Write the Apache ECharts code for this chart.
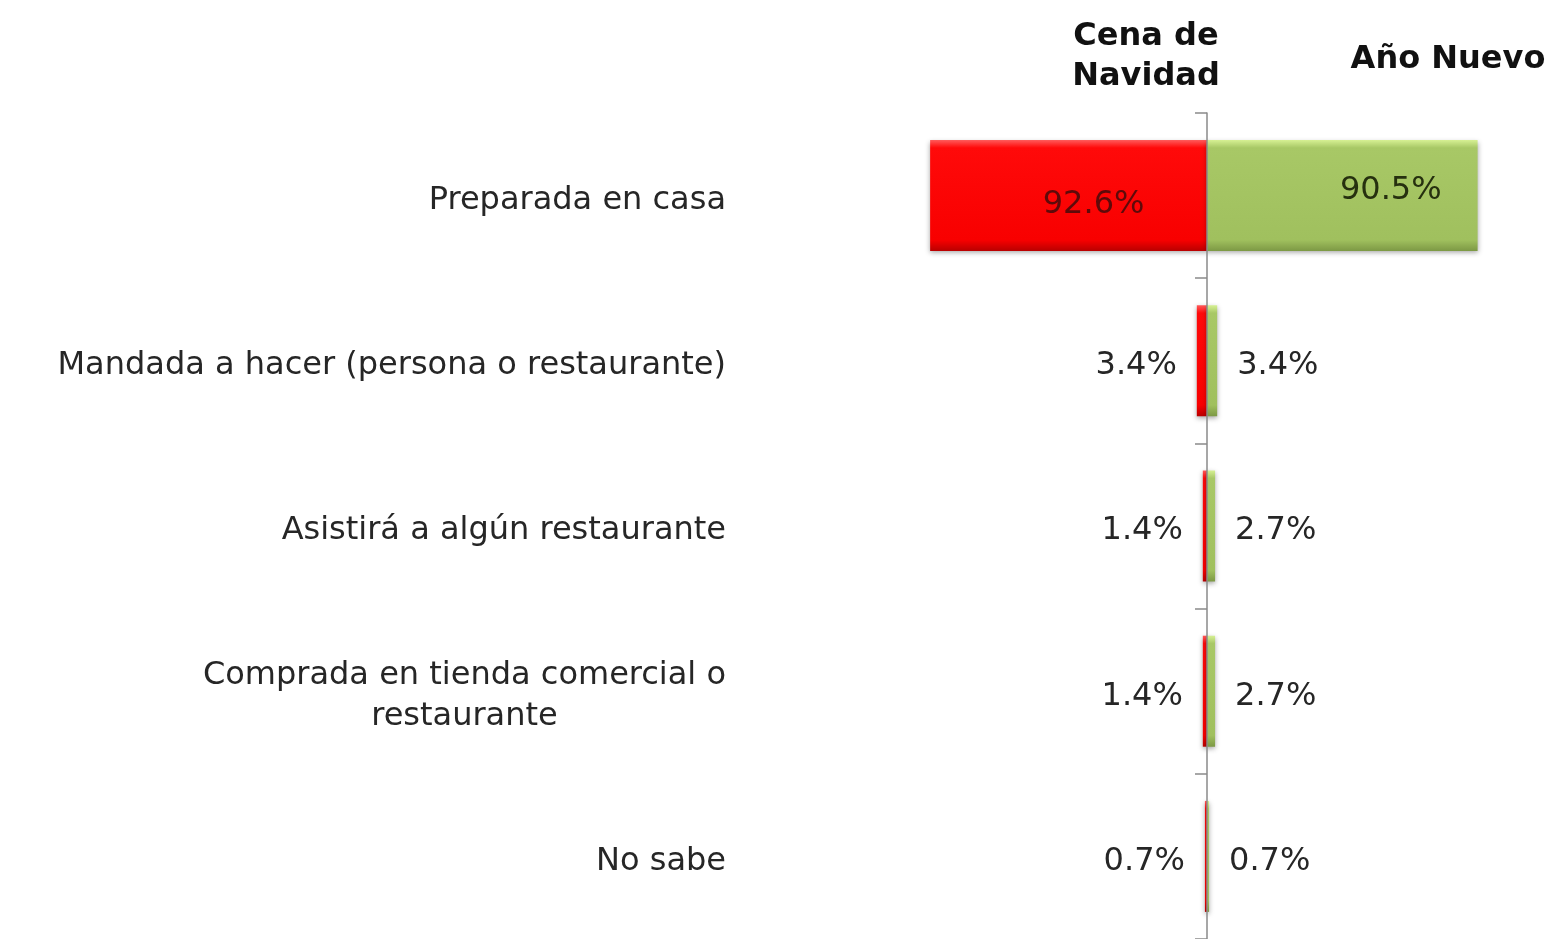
<!DOCTYPE html>
<html>
<head>
<meta charset="utf-8">
<script src="https://cdn.jsdelivr.net/npm/echarts@6/dist/echarts.min.js"></script>
<style>
  html, body { margin: 0; padding: 0; background: #fff; }
  #chart { width: 1551px; height: 939px; }
</style>
</head>
<body>
<div id="chart"></div>
<script>
// categories (top to bottom)
var categories = [
  'Preparada en casa',
  'Mandada a hacer (persona o restaurante)',
  'Asistirá a algún restaurante',
  'Comprada en tienda comercial o\nrestaurante',
  'No sabe'
];
var seriesNames = ['Cena de\nNavidad', 'Año Nuevo'];
var navidad = [92.6, 3.4, 1.4, 1.4, 0.7];
var anoNuevo = [90.5, 3.4, 2.7, 2.7, 0.7];

var FONT = '"DejaVu Sans", Verdana, sans-serif';

function pct(p) { return p.value.toFixed(1) + '%'; }

// left (red) bars: big one gets label inside
var leftData = navidad.map(function (v) {
  if (v > 50) {
    return { value: v, label: { position: 'inside', offset: [25, 9], color: '#5e0a0a' } };
  }
  return { value: v };
});
var rightData = anoNuevo.map(function (v) {
  if (v > 50) {
    return { value: v, label: { position: 'insideRight', distance: 36, offset: [0, -5], color: '#26300f' } };
  }
  return { value: v };
});

var redFill = new echarts.graphic.LinearGradient(0, 0, 0, 1, [
  { offset: 0, color: '#ff5a5a' },
  { offset: 0.07, color: '#ff0a0a' },
  { offset: 0.9, color: '#f80000' },
  { offset: 1, color: '#b80000' }
]);
var greenFill = new echarts.graphic.LinearGradient(0, 0, 0, 1, [
  { offset: 0, color: '#d6f093' },
  { offset: 0.07, color: '#a8c866' },
  { offset: 0.9, color: '#a0c05e' },
  { offset: 1, color: '#7c9844' }
]);

var option = {
  backgroundColor: '#ffffff',
  animation: false,
  title: [
    {
      text: seriesNames[0],
      left: 1141, top: 12, textAlign: 'center',
      textStyle: { fontFamily: FONT, fontSize: 32, fontWeight: 'bold', color: '#111', lineHeight: 40, align: 'center' }
    },
    {
      text: seriesNames[1],
      left: 1443, top: 39, textAlign: 'center',
      textStyle: { fontFamily: FONT, fontSize: 32, fontWeight: 'bold', color: '#111' }
    }
  ],
  grid: [
    { left: 908, right: 344, top: 113, bottom: -1 },
    { left: 1207, right: 45, top: 113, bottom: -1 }
  ],
  xAxis: [
    { gridIndex: 0, type: 'value', min: 0, max: 100, inverse: true, show: false },
    { gridIndex: 1, type: 'value', min: 0, max: 100, show: false }
  ],
  yAxis: [
    {
      gridIndex: 0, type: 'category', data: categories, inverse: true, show: false
    },
    {
      gridIndex: 1, type: 'category', data: categories, inverse: true, position: 'left',
      z: 5,
      axisLine: { show: true, lineStyle: { color: '#8a8a8a', width: 1.5 } },
      axisTick: { show: true, length: 12, lineStyle: { color: '#8a8a8a', width: 1.5 } },
      axisLabel: {
        margin: 481,
        align: 'right',
        padding: [10, 0, 0, 0],
        formatter: function (v) {
          return v.split('\n').map(function (l) { return '{c|' + l + '}'; }).join('\n');
        },
        rich: {
          c: { align: 'center', fontFamily: FONT, fontSize: 32, color: '#262626', lineHeight: 41 }
        }
      }
    }
  ],
  series: [
    {
      name: seriesNames[0], type: 'bar', xAxisIndex: 0, yAxisIndex: 0,
      data: leftData, barWidth: 111,
      itemStyle: { color: redFill, shadowBlur: 5, shadowColor: 'rgba(0,0,0,0.35)', shadowOffsetY: 2 },
      label: {
        show: true, position: 'left', distance: 20, offset: [0, 5], formatter: pct,
        fontFamily: FONT, fontSize: 32, color: '#262626'
      }
    },
    {
      name: seriesNames[1], type: 'bar', xAxisIndex: 1, yAxisIndex: 1,
      data: rightData, barWidth: 111,
      itemStyle: { color: greenFill, shadowBlur: 5, shadowColor: 'rgba(0,0,0,0.35)', shadowOffsetY: 2 },
      label: {
        show: true, position: 'right', distance: 20, offset: [0, 5], formatter: pct,
        fontFamily: FONT, fontSize: 32, color: '#262626'
      }
    }
  ]
};

echarts.init(document.getElementById('chart')).setOption(option);
</script>
</body>
</html>
